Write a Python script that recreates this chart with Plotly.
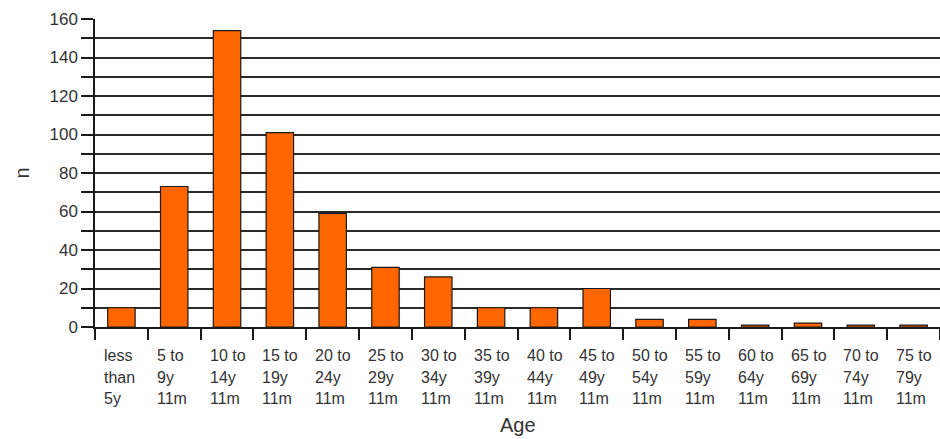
import plotly.graph_objects as go

categories = ["less than 5y", "5 to 9y 11m", "10 to 14y 11m", "15 to 19y 11m",
              "20 to 24y 11m", "25 to 29y 11m", "30 to 34y 11m", "35 to 39y 11m",
              "40 to 44y 11m", "45 to 49y 11m", "50 to 54y 11m", "55 to 59y 11m",
              "60 to 64y 11m", "65 to 69y 11m", "70 to 74y 11m", "75 to 79y 11m"]
label_lines = [["less", "than", "5y"], ["5 to", "9y", "11m"], ["10 to", "14y", "11m"],
               ["15 to", "19y", "11m"], ["20 to", "24y", "11m"], ["25 to", "29y", "11m"],
               ["30 to", "34y", "11m"], ["35 to", "39y", "11m"], ["40 to", "44y", "11m"],
               ["45 to", "49y", "11m"], ["50 to", "54y", "11m"], ["55 to", "59y", "11m"],
               ["60 to", "64y", "11m"], ["65 to", "69y", "11m"], ["70 to", "74y", "11m"],
               ["75 to", "79y", "11m"]]
counts = [10, 73, 154, 101, 59, 31, 26, 10, 10, 20, 4, 4, 1, 2, 1, 1]
y_ticks = [0, 20, 40, 60, 80, 100, 120, 140, 160]

FONT = "Liberation Sans, Arial, sans-serif"
TXT = "#333333"

fig = go.Figure(go.Bar(
    x=categories, y=counts,
    marker=dict(color="#FF6600", line=dict(color="#1a1a1a", width=1.2)),
    width=0.52,
))

annotations = []
for i, lines in enumerate(label_lines):
    for j, ln in enumerate(lines):
        annotations.append(dict(
            x=i - 0.5, y=0, xref="x", yref="y", text=ln, showarrow=False,
            xanchor="left", yanchor="top", xshift=7, yshift=-18 - 21.5 * j,
            font=dict(family=FONT, size=16, color=TXT)))
annotations.append(dict(x=0.5, y=0, xref="paper", yref="y", text="Age", showarrow=False,
                        xanchor="center", yanchor="top", yshift=-85,
                        font=dict(family=FONT, size=20, color=TXT)))

fig.update_layout(
    width=940, height=439,
    margin=dict(l=95, r=0, t=19, b=112),
    paper_bgcolor="white", plot_bgcolor="white",
    showlegend=False,
    annotations=annotations,
    font=dict(family=FONT, size=14, color=TXT),
)
fig.update_xaxes(
    range=[-0.5, len(categories) - 0.5],
    showticklabels=False,
    ticks="outside", tickson="boundaries", ticklen=11, tickcolor="#1a1a1a", tickwidth=1.5,
    showline=True, linecolor="#1a1a1a", linewidth=1.5,
    showgrid=False, zeroline=False,
)
fig.update_yaxes(
    range=[0, 160],
    tickvals=y_ticks,
    ticks="outside", ticklen=12, tickcolor="#1a1a1a", tickwidth=1.5,
    showline=True, linecolor="#1a1a1a", linewidth=1.5,
    showgrid=True, gridcolor="#2a2a2a", gridwidth=1.6,
    minor=dict(dtick=10, tick0=0, ticks="outside", ticklen=12, tickcolor="#1a1a1a",
               tickwidth=1.5, showgrid=True, gridcolor="#2a2a2a", gridwidth=1.6),
    zeroline=False,
    tickfont=dict(family=FONT, size=17, color=TXT),
    title=dict(text="n", font=dict(family=FONT, size=20, color=TXT), standoff=14),
)

fig.write_html("out.html")
